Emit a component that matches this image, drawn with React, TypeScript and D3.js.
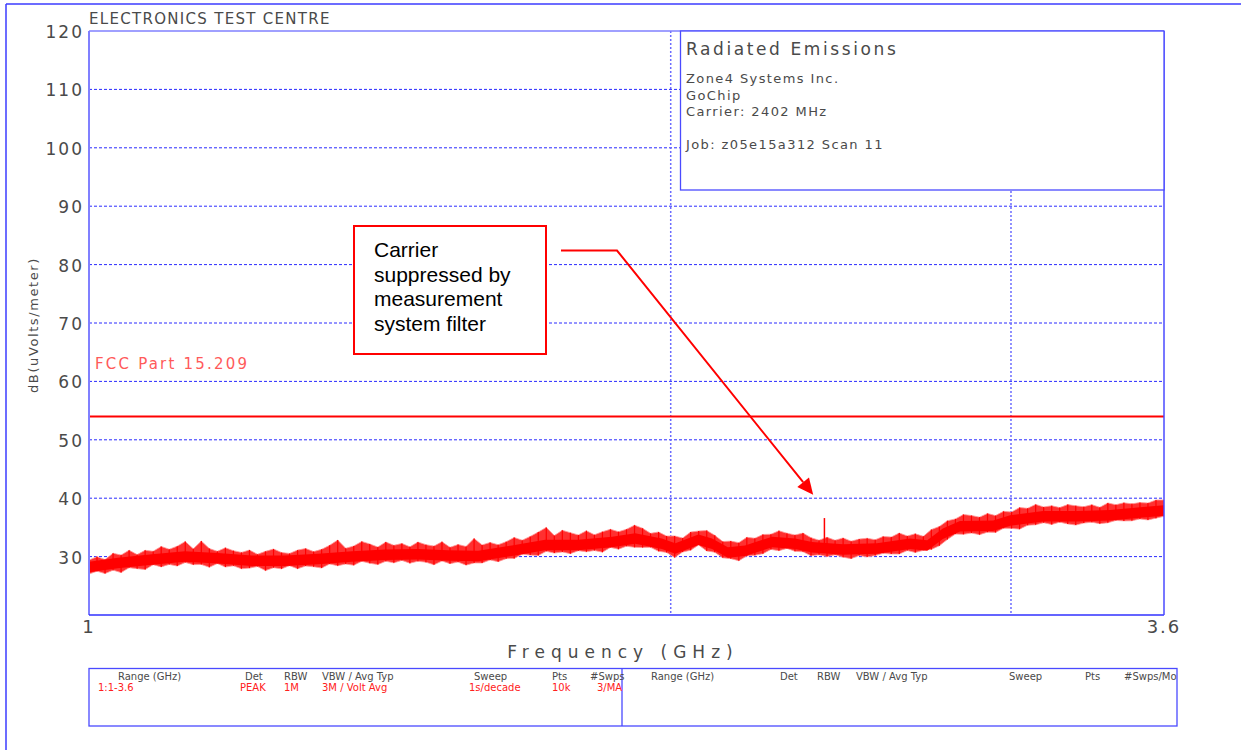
import React from "react";
import * as d3 from "d3";

// ---- data ----
const yTicks = [20, 30, 40, 50, 60, 70, 80, 90, 100, 110, 120];
const xGridGHz = [2, 3];
const xTickLabels = [
  { f: 1, label: "1" },
  { f: 3.6, label: "3.6" },
];
const limitDb = 54;
const startGHz = 1;
const stopGHz = 3.6;

// smoothed centre of the measured trace
const freqGHz = [1.0, 1.035, 1.078, 1.121, 1.166, 1.214, 1.263, 1.314, 1.368, 1.423, 1.48, 1.534, 1.59, 1.655, 1.722, 1.791, 1.865, 1.917, 1.979, 2.011, 2.067, 2.101, 2.141, 2.185, 2.257, 2.32, 2.367, 2.456, 2.557, 2.66, 2.715, 2.766, 2.823, 2.937, 2.997, 3.117, 3.246, 3.376, 3.511, 3.6];
const centerDb = [28.2, 28.9, 29.5, 30.0, 29.7, 29.3, 29.3, 29.6, 30.0, 30.3, 30.4, 30.2, 30.1, 31.0, 32.0, 32.0, 32.5, 33.1, 32.2, 31.4, 32.9, 32.2, 30.7, 31.0, 32.5, 32.2, 31.6, 31.2, 31.4, 32.2, 31.9, 33.9, 35.2, 35.3, 36.2, 36.9, 36.9, 37.1, 37.6, 37.9];

// noise excursions (dB above / below the centre) on the log-spaced sweep
const noiseUp = [
  1.2, 1.6, 0.9, 1.8, 1.3, 2.0, 1.1, 1.7, 1.4, 2.1,
  1.5, 1.9, 2.6, 1.4, 2.8, 1.6, 1.2, 1.9, 1.5, 1.3,
  1.8, 1.1, 1.6, 2.0, 1.4, 1.2, 1.7, 1.9, 1.3, 1.6,
  2.2, 3.0, 1.5, 1.8, 2.5, 2.0, 1.4, 2.2, 1.6, 1.9,
  1.3, 2.1, 1.7, 1.5, 2.3, 1.4, 1.9, 1.6, 3.0, 1.8,
  2.0, 1.4, 1.7, 2.2, 1.5, 1.9, 2.4, 3.0, 1.6, 2.5,
  2.1, 1.7, 2.3, 1.5, 1.9, 2.2, 1.6, 1.8, 2.3, 2.0,
  1.4, 1.9, 1.6, 2.1, 1.3, 1.8, 1.5, 2.0, 1.7, 1.4,
  1.9, 1.5, 2.2, 1.6, 1.8, 1.4, 2.0, 1.7, 1.5, 2.1,
  1.6, 1.3, 1.9, 1.5, 2.0, 1.4, 1.7, 1.8, 1.5, 1.9,
  1.6, 2.1, 1.4, 1.8, 1.5, 2.2, 1.7, 1.9, 1.6, 2.0,
  1.8, 1.5, 2.1, 1.6, 1.9, 1.4, 2.0, 1.7, 2.2, 1.6,
  1.8, 1.5, 2.0, 1.8, 1.6, 1.9, 1.4, 2.1, 1.7, 1.9,
  1.6, 1.7, 1.5, 1.9, 1.8,
];
const noiseDown = [
  1.2, 0.9, 1.5, 1.1, 1.7, 1.0, 1.3, 1.6, 0.9, 1.4,
  1.1, 1.5, 1.0, 1.3, 1.2, 1.6, 0.9, 1.4, 1.1, 1.5,
  1.3, 1.0, 1.7, 1.2, 1.4, 0.9, 1.5, 1.1, 1.3, 1.6,
  1.0, 1.4, 1.2, 1.5, 0.9, 1.3, 1.6, 1.1, 1.4, 1.0,
  1.5, 1.2, 1.3, 1.7, 1.0, 1.4, 1.1, 1.6, 1.2, 1.3,
  1.0, 1.5, 1.2, 1.4, 0.9, 1.3, 1.6, 1.1, 1.4, 1.2,
  1.5, 1.0, 1.3, 1.2, 1.6, 0.9, 1.4, 1.1, 1.5, 1.3,
  1.0, 1.4, 1.2, 1.6, 1.1, 1.3, 0.9, 1.5, 1.2, 1.4,
  1.1, 1.6, 1.0, 1.3, 1.5, 1.2, 1.4, 0.9, 1.3, 1.1,
  1.5, 1.2, 1.4, 1.0, 1.3, 1.6, 1.1, 1.4, 1.2, 1.0,
  1.3, 1.5, 1.1, 1.4, 0.9, 1.2, 1.6, 1.3, 1.0, 1.4,
  1.2, 1.5, 1.1, 1.3, 1.0, 1.4, 1.7, 1.2, 1.3, 1.1,
  1.4, 1.0, 1.3, 1.5, 1.2, 1.1, 1.4, 1.3, 1.0, 1.2,
  1.3, 1.1, 1.4, 1.2, 1.0,
];
const carrierGHz = 2.402;
const carrierDb = 36.6;

const infoTitle = "Radiated Emissions";
const infoLines = ["Zone4 Systems Inc.", "GoChip", "Carrier: 2402 MHz", "", "Job: z05e15a312 Scan 11"];
const noteLines = ["Carrier", "suppressed by", "measurement", "system filter"];
const noteArrowTip = { f: 2.37, db: 40.6 };

const tableHeaders = ["Range (GHz)", "Det", "RBW", "VBW / Avg Typ", "Sweep", "Pts", "#Swps"];
const tableHeadersRight = ["Range (GHz)", "Det", "RBW", "VBW / Avg Typ", "Sweep", "Pts", "#Swps/Mo"];
const tableValues = ["1:1-3.6", "PEAK", "1M", "3M / Volt Avg", "1s/decade", "10k", "3/MA"];

// ---- layout ----
const W = 1241, H = 750;
const L = 89, R = 1164, T = 31, B = 615;
const GRAY = "#4a4a4a";
const FONT = "'DejaVu Sans', sans-serif";

export default function App() {
  const x = d3.scaleLog().domain([startGHz, stopGHz]).range([L, R]);
  const y = d3.scaleLinear().domain([20, 120]).range([B, T]);
  const centerAt = d3.scaleLog().domain(freqGHz).range(centerDb);
  const n = noiseUp.length;
  // log-spaced sweep points
  const sweepF = noiseUp.map((_, i) => Math.pow(stopGHz, i / (n - 1)));

  const band = d3
    .area<number>()
    .x((i) => x(sweepF[i]))
    .y0((i) => y(centerAt(sweepF[i]) - noiseDown[i]))
    .y1((i) => y(centerAt(sweepF[i]) + noiseUp[i]));
  const core = d3
    .area<number>()
    .x((f) => x(f))
    .y0((f) => y(centerAt(f) - 0.9))
    .y1((f) => y(centerAt(f) + 0.9));
  const idx = d3.range(n);

  const tipX = x(noteArrowTip.f);
  const tipY = y(noteArrowTip.db);
  const elbowX = 617, elbowY = 250.5;
  const ang = Math.atan2(tipY - elbowY, tipX - elbowX);
  const ah = 16, aw = 7.5;
  const bx = tipX - ah * Math.cos(ang), by = tipY - ah * Math.sin(ang);
  const arrowPts = [
    [tipX, tipY],
    [bx + aw * Math.sin(ang), by - aw * Math.cos(ang)],
    [bx - aw * Math.sin(ang), by + aw * Math.cos(ang)],
  ];

  const colXL = [118, 245, 284, 322, 474, 552, 590];
  const colXV = [98, 240, 284, 322, 469, 552, 597];
  const colXR = [651, 780, 817, 856, 1009, 1085, 1124];

  return (
    <svg width={W} height={H} style={{ position: "absolute", left: 0, top: 0, background: "#fff" }} fontFamily={FONT}>
      <defs>
        <clipPath id="plotclip">
          <rect x={L} y={T} width={R - L} height={B - T} />
        </clipPath>
        <clipPath id="tableclip">
          <rect x={89} y={668} width={1088} height={58} />
        </clipPath>
      </defs>
      {/* outer frame */}
      <line x1={6} y1={4} x2={6} y2={H} stroke="#3b3bff" strokeWidth={1.5} />
      <line x1={6} y1={4} x2={W} y2={4} stroke="#3b3bff" strokeWidth={1.5} />

      {/* title */}
      <text x={89} y={24} fontSize={15} fill={GRAY} letterSpacing={1.3}>ELECTRONICS TEST CENTRE</text>

      {/* grid */}
      {yTicks.filter((t) => t > 20 && t < 120).map((t) => (
        <line key={"g" + t} x1={L} x2={R} y1={y(t)} y2={y(t)} stroke="#2a2aff" strokeWidth={1} strokeDasharray="3,2" />
      ))}
      {xGridGHz.map((f) => (
        <line key={"v" + f} x1={x(f)} x2={x(f)} y1={T} y2={B} stroke="#6b6bff" strokeWidth={1.5} strokeDasharray="2,2" />
      ))}

      {/* y tick labels */}
      {yTicks.filter((t) => t > 20).map((t) => (
        <text key={"t" + t} x={84} y={y(t) + 7} fontSize={17} fill={GRAY} textAnchor="end" letterSpacing={2}>{t}</text>
      ))}
      {/* x tick labels */}
      {xTickLabels.map((d) => (
        <text key={"x" + d.label} x={x(d.f)} y={633} fontSize={18} fill={GRAY} textAnchor="middle" letterSpacing={2}>{d.label}</text>
      ))}
      <text x={623} y={658} fontSize={17} fill={GRAY} textAnchor="middle" letterSpacing={6}>Frequency (GHz)</text>
      <text transform="translate(38,325) rotate(-90)" fontSize={13} fill={GRAY} textAnchor="middle" letterSpacing={1.6}>dB(uVolts/meter)</text>

      {/* trace */}
      <g clipPath="url(#plotclip)">
        <path d={band(idx) || ""} fill="#ff3030" stroke="#ff9a9a" strokeWidth={0.8} />
        {idx.map((i) => (
          <line key={"s" + i} x1={x(sweepF[i])} x2={x(sweepF[i])} y1={y(centerAt(sweepF[i]) - noiseDown[i])} y2={y(centerAt(sweepF[i]) + noiseUp[i])} stroke="#ff0000" strokeWidth={1.2} />
        ))}
        <path d={core(freqGHz) || ""} fill="#ff0000" />
        <line x1={x(carrierGHz)} x2={x(carrierGHz)} y1={y(centerAt(carrierGHz))} y2={y(carrierDb)} stroke="#ff0000" strokeWidth={1.5} />
      </g>

      {/* limit line */}
      <line x1={L} x2={R} y1={y(limitDb)} y2={y(limitDb)} stroke="#ff0000" strokeWidth={2} />
      <text x={95} y={369} fontSize={15} fill="#ff5a5a" letterSpacing={2.2}>FCC Part 15.209</text>

      {/* plot frame */}
      <line x1={L} x2={R} y1={T} y2={T} stroke="#8080ff" strokeWidth={1.5} />
      <line x1={L} x2={L} y1={T} y2={B} stroke="#8080ff" strokeWidth={2} />
      <line x1={L} x2={R} y1={B} y2={B} stroke="#3030ff" strokeWidth={1.5} />
      <line x1={R} x2={R} y1={T} y2={B} stroke="#4a4aff" strokeWidth={1.5} />

      {/* info box */}
      <rect x={680.5} y={T} width={R - 680.5} height={190 - T} fill="#fff" stroke="#4a4aff" strokeWidth={1.3} />
      <text x={686} y={55} fontSize={17} fill={GRAY} letterSpacing={2.6}>{infoTitle}</text>
      {infoLines.map((s, i) => (
        <text key={"i" + i} x={686} y={83 + i * 16.5} fontSize={13} fill={GRAY} letterSpacing={1.4}>{s}</text>
      ))}

      {/* annotation */}
      <rect x={354} y={226} width={192} height={128} fill="#fff" stroke="#ff0000" strokeWidth={2} />
      {noteLines.map((s, i) => (
        <text key={"n" + i} x={374} y={257 + i * 24.6} fontSize={21} fontFamily="'Liberation Sans', Arial, sans-serif" fill="#000">{s}</text>
      ))}
      <polyline points={`561,${elbowY} ${elbowX},${elbowY} ${bx},${by}`} fill="none" stroke="#ff0000" strokeWidth={2} />
      <polygon points={arrowPts.map((p) => p.join(",")).join(" ")} fill="#ff0000" />

      {/* bottom table */}
      <rect x={89} y={668.5} width={1088} height={57.5} fill="none" stroke="#4a4aff" strokeWidth={1.3} />
      <line x1={622} x2={622} y1={668.5} y2={726} stroke="#4a4aff" strokeWidth={1.3} />
      <g clipPath="url(#tableclip)" fontSize={10}>
        {tableHeaders.map((s, i) => (
          <text key={"h" + i} x={colXL[i]} y={680} fill={GRAY}>{s}</text>
        ))}
        {tableValues.map((s, i) => (
          <text key={"v" + i} x={colXV[i]} y={691} fill="#ff2020">{s}</text>
        ))}
        {tableHeadersRight.map((s, i) => (
          <text key={"r" + i} x={colXR[i]} y={680} fill={GRAY}>{s}</text>
        ))}
      </g>
    </svg>
  );
}
